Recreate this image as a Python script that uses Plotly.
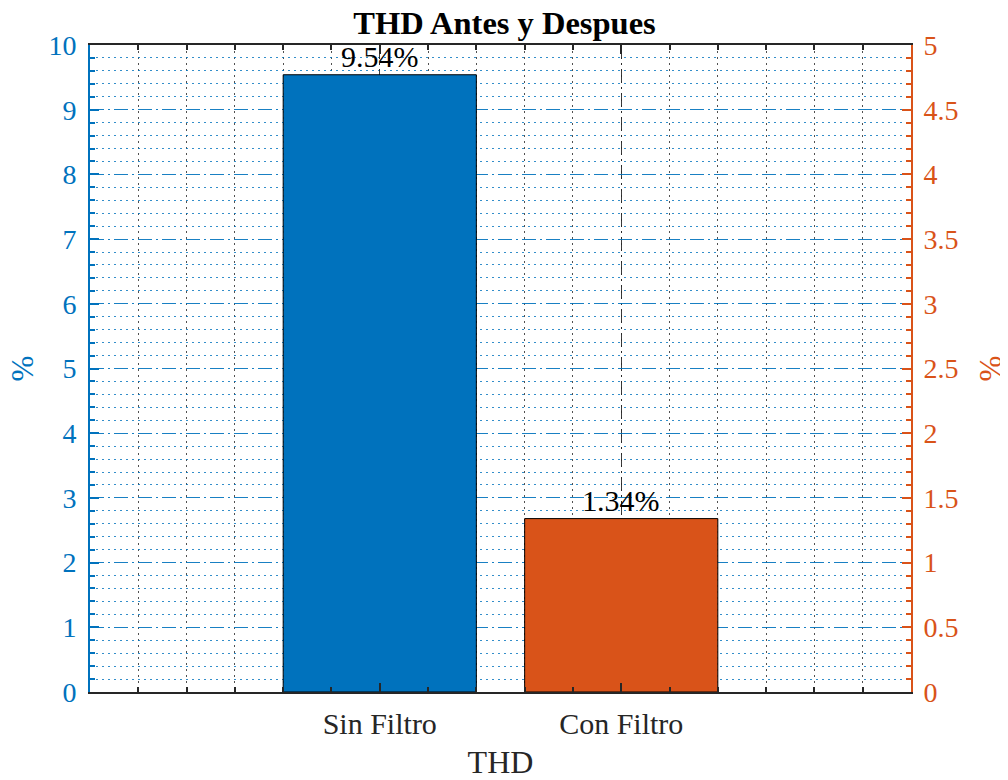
import plotly.graph_objects as go

# Data
categories = ["Sin Filtro", "Con Filtro"]
cat_pos = [1, 2]
thd_sin = [9.54]      # left axis (%)
thd_con = [1.34]      # right axis (%)
labels = ["9.54%", "1.34%"]
y_left_title = "%"
y_right_title = "%"

BLUE = "#0072BD"
ORANGE = "#D95319"
DARK = "#262626"
FONT = "Liberation Serif"

fig = go.Figure()
fig.add_trace(go.Bar(x=[cat_pos[0]], y=thd_sin, width=0.8, marker=dict(color=BLUE, line=dict(color="black", width=1)),
                     yaxis="y", showlegend=False, hoverinfo="y"))
fig.add_trace(go.Bar(x=[cat_pos[1]], y=thd_con, width=0.8, marker=dict(color=ORANGE, line=dict(color="black", width=1)),
                     yaxis="y2", showlegend=False, hoverinfo="y"))

fig.add_annotation(x=cat_pos[0], y=thd_sin[0], xref="x", yref="y", text=labels[0], showarrow=False,
                   yanchor="bottom", xanchor="center", font=dict(family=FONT, size=30, color="black"))
fig.add_annotation(x=cat_pos[1], y=thd_con[0], xref="x", yref="y2", text=labels[1], showarrow=False,
                   yanchor="bottom", xanchor="center", font=dict(family=FONT, size=30, color="black"))

# y-axis titles (placed as annotations for precise positioning)
fig.add_annotation(x=0, y=0.5, xref="paper", yref="paper", text=y_left_title, showarrow=False,
                   textangle=-90, xanchor="center", yanchor="middle", xshift=-68,
                   font=dict(family=FONT, size=31, color=BLUE))
fig.add_annotation(x=1, y=0.5, xref="paper", yref="paper", text=y_right_title, showarrow=False,
                   textangle=-90, xanchor="center", yanchor="middle", xshift=79,
                   font=dict(family=FONT, size=31, color=ORANGE))

GRID_DASHDOT = "14px,4px,2px,4px"
GRID_DOT = "1.5px,4.5px"

# page body adds an 8px margin, so the figure is 8px smaller and shifted
fig.update_layout(
    width=1000, height=772,
    margin=dict(l=82, r=97, t=37, b=88),
    paper_bgcolor="white", plot_bgcolor="white",
    barmode="overlay",
    font=dict(family=FONT, color=DARK),
    title=dict(text="<b>THD Antes y Despues</b>", x=0.4965, xanchor="center",
               yref="paper", y=1, yanchor="bottom", pad=dict(b=11),
               font=dict(family=FONT, size=32.5, color="black")),
    xaxis=dict(
        range=[-0.2, 3.2], tickvals=cat_pos, ticktext=categories, automargin=False,
        ticks="inside", ticklen=9, tickwidth=1.5, tickcolor=DARK,
        showline=True, linecolor=DARK, linewidth=2, mirror="ticks",
        showgrid=True, gridcolor="rgba(38,38,38,0.9)", gridwidth=1, griddash=GRID_DASHDOT,
        zeroline=False,
        tickfont=dict(family=FONT, size=30, color=DARK), ticklabelstandoff=4,
        title=dict(text="THD", font=dict(family=FONT, size=32, color=DARK), standoff=14),
        minor=dict(tick0=0, dtick=0.2, ticks="inside", ticklen=5, tickwidth=1.5, tickcolor=DARK,
                   showgrid=True, gridcolor="rgba(38,38,38,0.8)", gridwidth=1, griddash=GRID_DOT),
    ),
    yaxis=dict(
        range=[0, 10], dtick=1, tick0=0, automargin=False,
        ticks="inside", ticklen=9, tickwidth=1.5, tickcolor=BLUE,
        showline=True, linecolor=BLUE, linewidth=2,
        showgrid=True, gridcolor="rgba(0,114,189,0.9)", gridwidth=1, griddash=GRID_DASHDOT,
        zeroline=False,
        tickfont=dict(family=FONT, size=28, color=BLUE), ticklabelstandoff=6,
        minor=dict(tick0=0, dtick=0.2, ticks="inside", ticklen=5, tickwidth=1.5, tickcolor=BLUE,
                   showgrid=True, gridcolor="rgba(0,114,189,0.8)", gridwidth=1, griddash=GRID_DOT),
    ),
    yaxis2=dict(
        range=[0, 5], dtick=0.5, tick0=0, overlaying="y", side="right", automargin=False,
        ticks="inside", ticklen=9, tickwidth=1.5, tickcolor=ORANGE,
        showline=True, linecolor=ORANGE, linewidth=2,
        showgrid=False, zeroline=False,
        tickfont=dict(family=FONT, size=28, color=ORANGE), ticklabelstandoff=5,
        minor=dict(tick0=0, dtick=0.1, ticks="inside", ticklen=5, tickwidth=1.5, tickcolor=ORANGE,
                   showgrid=False),
    ),
)

fig.write_html("out.html")
